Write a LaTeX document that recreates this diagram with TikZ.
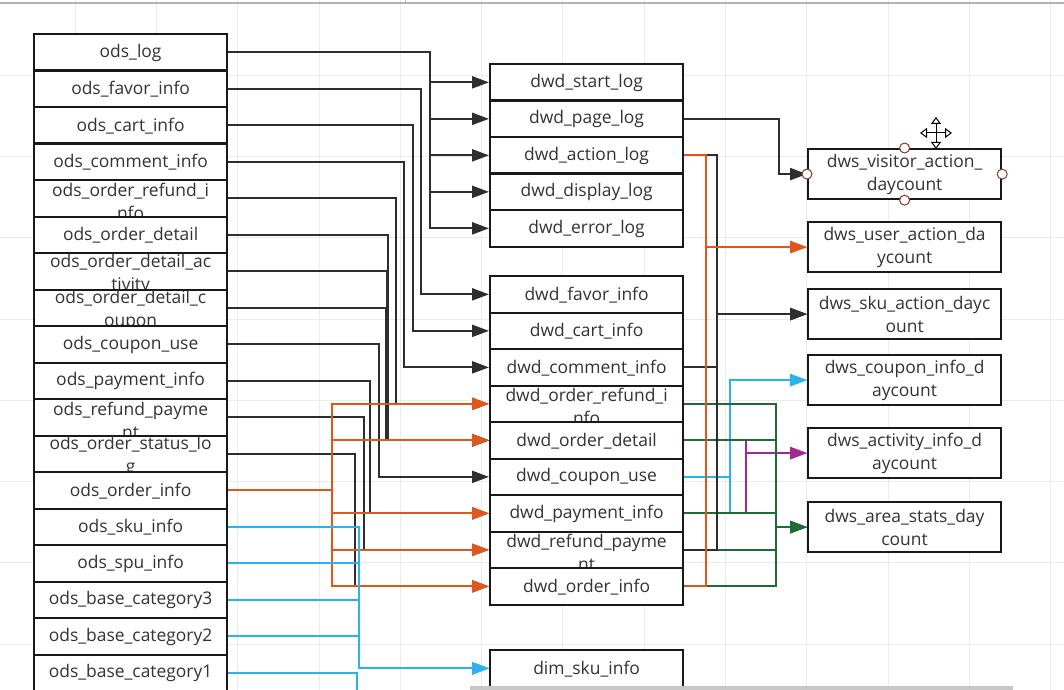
\documentclass[tikz,border=0pt]{standalone}
\usepackage{fontspec}
\setmainfont{Open Sans}
\usetikzlibrary{arrows.meta}
\definecolor{txt}{HTML}{333333}
\definecolor{cblk}{HTML}{2E2E2E}
\definecolor{corg}{HTML}{E0561B}
\definecolor{cblu}{HTML}{2BB3EE}
\definecolor{cgrn}{HTML}{1F6B35}
\definecolor{cpur}{HTML}{A0288F}
\definecolor{chnd}{HTML}{8B3A2A}
\newcommand\tblbox[5]{%
  \node[#4] (#1) at (#2,#3) {};
  \node[lbl] (#1-t) at ([yshift=-3bp]#1.center) {#5};}
\newcommand\tblboxc[5]{%
  \node[#4] (#1) at (#2,#3) {};
  \node[lbl] (#1-t) at ([yshift=-0.5bp]#1.center) {#5};}
\begin{document}
\begin{tikzpicture}[x=1bp,y=-1bp,
  box/.style={draw=black!90, line width=2.2bp, fill=white, minimum width=193bp,
    minimum height=36.5bp, inner sep=0pt, anchor=north west},
  tall/.style={box, minimum height=50bp},
  lbl/.style={text=txt, font=\fontsize{17.5}{23}\selectfont, align=center, inner sep=0pt},
  gridl/.style={black!8, line width=0.8bp},
  conn/.style={line width=2.2bp, -{Triangle[length=17bp,width=12bp]}},
  wire/.style={line width=2.2bp},
  handle/.style={circle, draw=chnd, fill=white, line width=1bp, minimum size=10bp, inner sep=0pt}]
\path[use as bounding box] (0,0) rectangle (1064,690);
\clip (0,0) rectangle (1064,690);
\fill[white] (0,0) rectangle (1064,690);
% grid
\foreach \i in {0,...,12} {\draw[gridl] ({75+81.3*\i},0) -- ({75+81.3*\i},690);}
\foreach \i in {0,...,7} {\draw[gridl] (0,{75+81.3*\i}) -- (1064,{75+81.3*\i});}
\draw[black!30, line width=1.2bp] (0,3) -- (1064,3);
\draw[black!30, line width=1bp] (405,0) -- (405,3);
% ods column
\tblboxc{o1}{33}{33}{box}{ods\_log}
\tblboxc{o2}{33}{69.5}{box}{ods\_favor\_info}
\tblboxc{o3}{33}{106}{box}{ods\_cart\_info}
\tblboxc{o4}{33}{142.5}{box}{ods\_comment\_info}
\tblbox{o5}{33}{179}{box}{ods\_order\_refund\_i\\nfo}
\tblboxc{o6}{33}{215.5}{box}{ods\_order\_detail}
\tblbox{o7}{33}{252}{box}{ods\_order\_detail\_ac\\tivity}
\tblbox{o8}{33}{288.5}{box}{ods\_order\_detail\_c\\oupon}
\tblboxc{o9}{33}{325}{box}{ods\_coupon\_use}
\tblboxc{o10}{33}{361.5}{box}{ods\_payment\_info}
\tblbox{o11}{33}{398}{box}{ods\_refund\_payme\\nt}
\tblbox{o12}{33}{434.5}{box}{ods\_order\_status\_lo\\g}
\tblboxc{o13}{33}{471}{box}{ods\_order\_info}
\tblboxc{o14}{33}{507.5}{box}{ods\_sku\_info}
\tblboxc{o15}{33}{544}{box}{ods\_spu\_info}
\tblboxc{o16}{33}{580.5}{box}{ods\_base\_category3}
\tblboxc{o17}{33}{617}{box}{ods\_base\_category2}
\tblboxc{o18}{33}{653.5}{box}{ods\_base\_category1}
% dwd column
\tblboxc{d1}{489}{63}{box}{dwd\_start\_log}
\tblboxc{d2}{489}{99.5}{box}{dwd\_page\_log}
\tblboxc{d3}{489}{136}{box}{dwd\_action\_log}
\tblboxc{d4}{489}{172.5}{box}{dwd\_display\_log}
\tblboxc{d5}{489}{209}{box}{dwd\_error\_log}
\tblboxc{d6}{489}{275}{box}{dwd\_favor\_info}
\tblboxc{d7}{489}{311.5}{box}{dwd\_cart\_info}
\tblboxc{d8}{489}{348}{box}{dwd\_comment\_info}
\tblbox{d9}{489}{384.5}{box}{dwd\_order\_refund\_i\\nfo}
\tblboxc{d10}{489}{421}{box}{dwd\_order\_detail}
\tblboxc{d11}{489}{457.5}{box}{dwd\_coupon\_use}
\tblboxc{d12}{489}{494}{box}{dwd\_payment\_info}
\tblbox{d13}{489}{530.5}{box}{dwd\_refund\_payme\\nt}
\tblboxc{d14}{489}{567}{box}{dwd\_order\_info}
\tblboxc{dim}{489}{649}{box}{dim\_sku\_info}
% dws column
\tblboxc{s1}{807}{148}{tall}{dws\_visitor\_action\_\\daycount}
\tblboxc{s2}{807}{221}{tall}{dws\_user\_action\_da\\ycount}
\tblboxc{s3}{807}{288}{tall}{dws\_sku\_action\_dayc\\ount}
\tblboxc{s4}{807}{354}{tall}{dws\_coupon\_info\_d\\aycount}
\tblboxc{s5}{807}{427}{tall}{dws\_activity\_info\_d\\aycount}
\tblboxc{s6}{807}{501}{tall}{dws\_area\_stats\_day\\count}
% ods -> dwd (black)
\foreach \t in {d1,d2,d3,d4,d5} {\draw[conn,cblk] (o1.east) -- ++(202,0) |- (\t.west);}
\draw[conn,cblk] (o2.east) -- ++(193,0) |- (d6.west);
\draw[conn,cblk] (o3.east) -- ++(185,0) |- (d7.west);
\draw[conn,cblk] (o4.east) -- ++(176,0) |- (d8.west);
\draw[conn,cblk] (o5.east) -- ++(168,0) |- (d9.west);
\draw[conn,cblk] (o6.east) -- ++(160,0) |- (d10.west);
\draw[conn,cblk] (o7.east) -- ++(159,0) |- (d10.west);
\draw[conn,cblk] (o8.east) -- ++(158,0) |- (d10.west);
\draw[conn,cblk] (o9.east) -- ++(151,0) |- (d11.west);
\draw[conn,cblk] (o10.east) -- ++(142,0) |- (d12.west);
\draw[conn,cblk] (o11.east) -- ++(136,0) |- (d13.west);
\draw[conn,cblk] (o12.east) -- ++(127,0) |- (d14.west);
% ods_order_info -> dwd (orange)
\foreach \t in {d9,d10,d12,d13,d14} {\draw[conn,corg] (o13.east) -- ++(104,0) |- (\t.west);}
% ods -> dim_sku_info (blue)
\coordinate (bluebot) at (357,695);
\foreach \s in {o14,o15,o16,o17} {\draw[conn,cblu] (\s.east) -- ++(131,0) |- (dim.west);}
\draw[wire,cblu] (o18.east) -| (bluebot);
% dwd -> dws
\draw[conn,cblk] (d2.east) -- ++(95,0) |- (s1.west);
\foreach \s in {d11,d12} {\draw[conn,cblu] (\s.east) -- ++(46,0) |- (s4.west);}
\foreach \s in {d10,d12} {\draw[conn,cpur] (\s.east) -- ++(62,0) |- (s5.west);}
\foreach \s in {d9,d10,d12,d13,d14} {\draw[conn,cgrn] (\s.east) -- ++(92,0) |- (s6.west);}
\foreach \s in {d3,d8,d13} {\draw[conn,cblk] (\s.east) -- ++(33,0) |- (s3.west);}
\foreach \s in {d3,d14} {\draw[conn,corg] (\s.east) -- ++(22,0) |- (s2.west);}
% selection handles on dws_visitor_action_daycount
\node[handle] (h1) at (s1.north) {};
\node[handle] (h2) at (s1.south) {};
\node[handle] (h3) at (s1.west) {};
\node[handle] (h4) at (s1.east) {};
% move cursor
\draw[line width=1bp, fill=white, {Triangle[open,length=7bp,width=10bp]}-{Triangle[open,length=7bp,width=10bp]}] (920,133) -- (952,133);
\draw[line width=1bp, fill=white, {Triangle[open,length=7bp,width=10bp]}-{Triangle[open,length=7bp,width=10bp]}] (936,117) -- (936,149);
% bottom bar
\fill[black!22] (470,686) rectangle (1013,691);
\end{tikzpicture}
\end{document}
